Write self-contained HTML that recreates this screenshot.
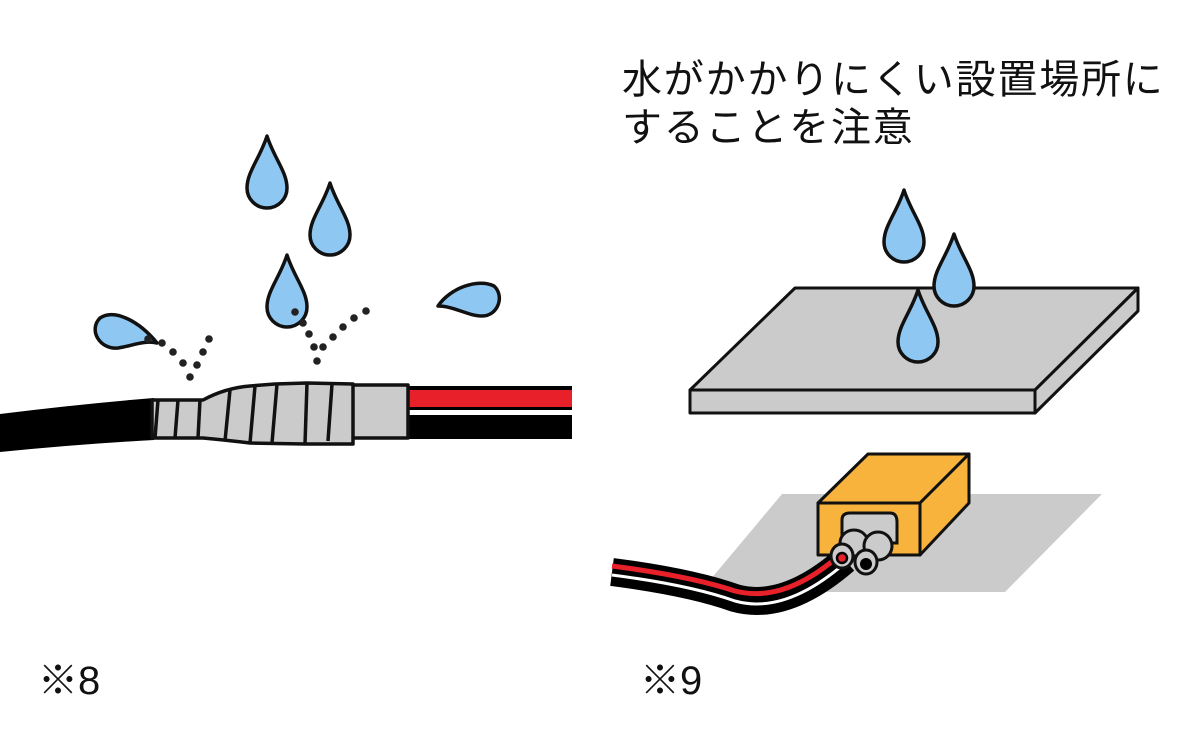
<!DOCTYPE html>
<html><head><meta charset="utf-8"><style>
html,body{margin:0;padding:0;background:#fff;}
svg{display:block;}
text{font-family:"Liberation Sans","Noto Sans CJK JP",sans-serif;fill:#111;}
</style></head><body>
<svg width="1184" height="732" viewBox="0 0 1184 732" xmlns="http://www.w3.org/2000/svg">
<defs>
<path id="drop" d="M0,0 C7,22 20,36 20,52 A20,20 0 0 1 -20,52 C-20,36 -7,22 0,0 Z" fill="#8ec8f2" stroke="#111" stroke-width="3.5" stroke-linejoin="round"/>
</defs>
<!-- left cable -->
<path d="M0,414 Q80,404 154,398 L154,440 Q80,444 0,452 Z" fill="#000"/>
<rect x="406" y="386" width="166" height="24" fill="#000"/>
<rect x="408" y="390" width="164" height="17" fill="#e8202a"/>
<rect x="406" y="415" width="166" height="24" fill="#000"/>
<!-- collar -->
<path d="M152,400 L203,400 Q225,388 250,386 L275,384 L307,383 L353,384 L353,385 L408,385 L408,438 L353,438 L353,444 L305,444 L250,443 Q225,440 203,438 L152,438 Z" fill="#cbcbcb" stroke="#111" stroke-width="3.5" stroke-linejoin="round"/>
<g stroke="#111" stroke-width="3.5" fill="none">
<path d="M158,400 L155,438"/><path d="M178,400 L175,438"/><path d="M200,400 L198,438"/>
<path d="M230,390 L225,441"/><path d="M255,386 L250,443"/><path d="M277,384 L272,443"/>
<path d="M307,383 L305,444"/><path d="M332,384 L328,441"/><path d="M353,385 L353,438"/>
</g>
<!-- drops -->
<use href="#drop" transform="translate(267,136)"/>
<use href="#drop" transform="translate(330,183)"/>
<use href="#drop" transform="translate(287,255)"/>
<path d="M157,343 C140,322 115,308 100,318 C88,330 100,350 118,348 C132,346 144,340 157,343 Z" fill="#8ec8f2" stroke="#111" stroke-width="3.5" stroke-linejoin="round"/>
<path d="M438,306 C450,288 478,278 494,286 C505,296 498,316 482,316 C468,316 454,306 438,306 Z" fill="#8ec8f2" stroke="#111" stroke-width="3.5" stroke-linejoin="round"/>
<g fill="#222">
<circle cx="148" cy="339" r="3.8"/><circle cx="162" cy="343" r="3.8"/><circle cx="173" cy="352" r="3.8"/><circle cx="183" cy="363" r="3.8"/><circle cx="190" cy="377" r="3.8"/><circle cx="197" cy="365" r="3.8"/><circle cx="203" cy="352" r="3.8"/><circle cx="209" cy="339" r="3.8"/>
<circle cx="295" cy="312" r="3.8"/><circle cx="303" cy="323" r="3.8"/><circle cx="309" cy="334" r="3.8"/><circle cx="314" cy="347" r="3.8"/><circle cx="317" cy="361" r="3.8"/><circle cx="323" cy="347" r="3.8"/><circle cx="333" cy="337" r="3.8"/><circle cx="343" cy="327" r="3.8"/><circle cx="354" cy="318" r="3.8"/><circle cx="366" cy="311" r="3.8"/>
</g>
<!-- right text -->
<text x="622" y="93" font-size="40" letter-spacing="1.8">水がかかりにくい設置場所に</text>
<text x="622" y="141" font-size="40" letter-spacing="1.8">することを注意</text>
<!-- slab -->
<g fill="#cbcbcb" stroke="#111" stroke-width="3" stroke-linejoin="round">
<path d="M690,390 L795,288 L1138,288 L1035,390 Z"/>
<path d="M690,390 L1035,390 L1035,413 L690,413 Z"/>
<path d="M1035,390 L1138,288 L1138,311 L1035,413 Z"/>
</g>
<use href="#drop" transform="translate(904,190)"/>
<use href="#drop" transform="translate(954,234)"/>
<use href="#drop" transform="translate(918,290)"/>
<!-- shadow -->
<path d="M700,592 L782,494 L1102,494 L1005,592 Z" fill="#cbcbcb"/>
<!-- box -->
<g fill="#f8b33c" stroke="#111" stroke-width="3" stroke-linejoin="round">
<path d="M818,503 L868,454 L969,454 L920,503 Z"/>
<path d="M920,503 L969,454 L969,503 L920,555 Z"/>
<path d="M818,503 L920,503 L920,555 L818,555 Z"/>
</g>
<path d="M842,543 L842,520 Q842,513 850,513 L890,513 Q897,513 897,522 L897,543 Z" fill="#cbcbcb" stroke="#111" stroke-width="3"/>
<!-- cable -->
<path d="M612,572 Q690,582 735,598 Q785,612 845,560" fill="none" stroke="#000" stroke-width="28"/>
<path d="M612,572 Q690,582 735,598 Q785,612 845,560" fill="none" stroke="#fff" stroke-width="3" transform="translate(0,3)"/>
<path d="M612,566 Q690,576 735,591 Q785,604 842,553" fill="none" stroke="#e8202a" stroke-width="5"/>
<g fill="#cbcbcb" stroke="#111" stroke-width="3">
<ellipse cx="854" cy="543" rx="14" ry="13"/>
<ellipse cx="878" cy="546" rx="14" ry="14"/>
<ellipse cx="842" cy="556" rx="11" ry="12"/>
<ellipse cx="866" cy="562" rx="11" ry="12"/>
</g>
<circle cx="842" cy="558" r="5" fill="#e8202a" stroke="#000" stroke-width="2.5"/>
<circle cx="866" cy="564" r="6" fill="#000"/>
<!-- labels -->
<text x="38" y="694" font-size="40">※8</text>
<text x="640" y="694" font-size="40">※9</text>
</svg>
</body></html>
